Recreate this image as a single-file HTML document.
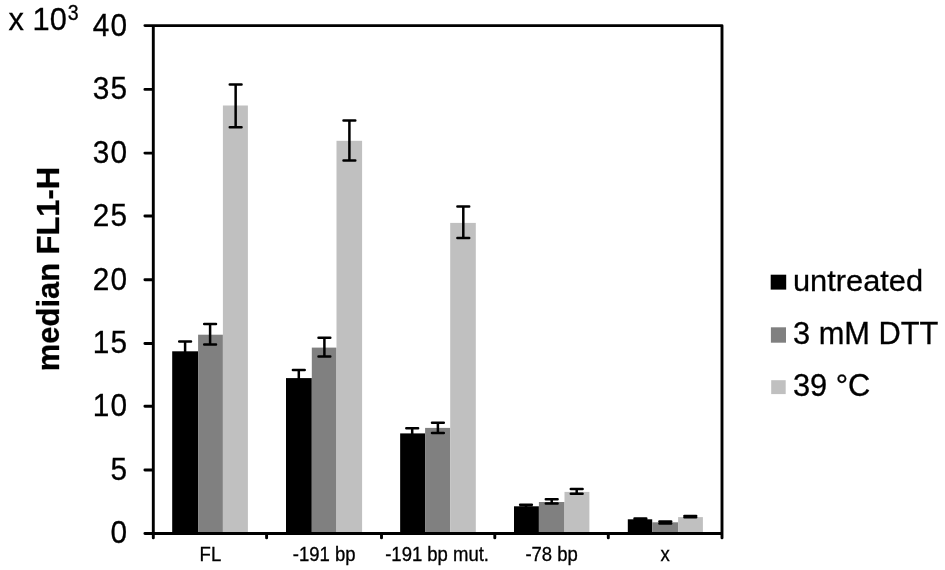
<!DOCTYPE html>
<html><head><meta charset="utf-8"><style>
html,body{margin:0;padding:0;background:#fff;width:945px;height:570px;overflow:hidden}
svg{display:block}
text{font-family:"Liberation Sans",Arial,sans-serif;fill:#000;stroke:#000;stroke-width:0.3px}
</style></head><body>
<svg width="945" height="570" viewBox="0 0 945 570">
<rect x="172.20" y="351.30" width="25.90" height="182.20" fill="#000000"/>
<rect x="198.10" y="334.70" width="24.80" height="198.80" fill="#808080"/>
<rect x="222.90" y="105.50" width="25.00" height="428.00" fill="#c0c0c0"/>
<rect x="286.00" y="378.10" width="25.80" height="155.40" fill="#000000"/>
<rect x="311.80" y="347.60" width="24.70" height="185.90" fill="#808080"/>
<rect x="336.50" y="140.80" width="25.60" height="392.70" fill="#c0c0c0"/>
<rect x="400.15" y="433.40" width="24.95" height="100.10" fill="#000000"/>
<rect x="425.10" y="427.90" width="25.10" height="105.60" fill="#808080"/>
<rect x="450.20" y="222.90" width="25.60" height="310.60" fill="#c0c0c0"/>
<rect x="514.00" y="506.30" width="24.90" height="27.20" fill="#000000"/>
<rect x="538.90" y="502.00" width="25.60" height="31.50" fill="#808080"/>
<rect x="564.50" y="491.90" width="24.90" height="41.60" fill="#c0c0c0"/>
<rect x="627.80" y="519.30" width="24.40" height="14.20" fill="#000000"/>
<rect x="652.20" y="522.30" width="25.90" height="11.20" fill="#808080"/>
<rect x="678.10" y="517.10" width="24.80" height="16.40" fill="#c0c0c0"/>
<path d="M185.10 341.40V361.20M179.20 341.40H191.00M179.20 361.20H191.00" stroke="#000" stroke-width="2.5" stroke-linecap="round" fill="none"/>
<path d="M210.10 323.90V344.40M204.20 323.90H216.00M204.20 344.40H216.00" stroke="#000" stroke-width="2.5" stroke-linecap="round" fill="none"/>
<path d="M235.65 84.60V127.20M229.75 84.60H241.55M229.75 127.20H241.55" stroke="#000" stroke-width="2.5" stroke-linecap="round" fill="none"/>
<path d="M298.80 370.10V386.10M292.90 370.10H304.70M292.90 386.10H304.70" stroke="#000" stroke-width="2.5" stroke-linecap="round" fill="none"/>
<path d="M324.40 337.80V356.60M318.50 337.80H330.30M318.50 356.60H330.30" stroke="#000" stroke-width="2.5" stroke-linecap="round" fill="none"/>
<path d="M349.40 120.60V160.60M343.50 120.60H355.30M343.50 160.60H355.30" stroke="#000" stroke-width="2.5" stroke-linecap="round" fill="none"/>
<path d="M412.20 428.30V438.50M406.30 428.30H418.10M406.30 438.50H418.10" stroke="#000" stroke-width="2.5" stroke-linecap="round" fill="none"/>
<path d="M437.90 422.80V433.00M432.00 422.80H443.80M432.00 433.00H443.80" stroke="#000" stroke-width="2.5" stroke-linecap="round" fill="none"/>
<path d="M463.30 206.40V238.05M457.40 206.40H469.20M457.40 238.05H469.20" stroke="#000" stroke-width="2.5" stroke-linecap="round" fill="none"/>
<path d="M526.00 504.80V507.80M520.10 504.80H531.90M520.10 507.80H531.90" stroke="#000" stroke-width="2.5" stroke-linecap="round" fill="none"/>
<path d="M551.70 499.30V503.40M545.80 499.30H557.60M545.80 503.40H557.60" stroke="#000" stroke-width="2.5" stroke-linecap="round" fill="none"/>
<path d="M576.70 489.10V493.75M570.80 489.10H582.60M570.80 493.75H582.60" stroke="#000" stroke-width="2.5" stroke-linecap="round" fill="none"/>
<path d="M640.40 518.50V520.30M634.50 518.50H646.30M634.50 520.30H646.30" stroke="#000" stroke-width="2.5" stroke-linecap="round" fill="none"/>
<path d="M665.30 521.40V523.40M659.40 521.40H671.20M659.40 523.40H671.20" stroke="#000" stroke-width="2.5" stroke-linecap="round" fill="none"/>
<path d="M690.30 515.95V517.15M684.40 515.95H696.20M684.40 517.15H696.20" stroke="#000" stroke-width="2.5" stroke-linecap="round" fill="none"/>
<path d="M153.30 25.60H722.00V533.50H153.30Z M144.90 533.50H153.30 M144.90 470.00H153.30 M144.90 406.30H153.30 M144.90 343.50H153.30 M144.90 279.75H153.30 M144.90 216.00H153.30 M144.90 153.10H153.30 M144.90 89.40H153.30 M144.90 25.60H153.30 M153.30 533.50V537.90 M266.60 533.50V537.90 M381.50 533.50V537.90 M494.80 533.50V537.90 M608.30 533.50V537.90 M722.00 533.50V537.90" stroke="#000" stroke-width="2.9" stroke-linecap="round" stroke-linejoin="round" fill="none"/>
<text transform="translate(128.4 543.40) scale(1 1.07)" text-anchor="end" letter-spacing="1.3" font-size="29.8">0</text>
<text transform="translate(128.4 479.90) scale(1 1.07)" text-anchor="end" letter-spacing="1.3" font-size="29.8">5</text>
<text transform="translate(128.4 416.20) scale(1 1.07)" text-anchor="end" letter-spacing="1.3" font-size="29.8">10</text>
<text transform="translate(128.4 353.40) scale(1 1.07)" text-anchor="end" letter-spacing="1.3" font-size="29.8">15</text>
<text transform="translate(128.4 289.65) scale(1 1.07)" text-anchor="end" letter-spacing="1.3" font-size="29.8">20</text>
<text transform="translate(128.4 225.90) scale(1 1.07)" text-anchor="end" letter-spacing="1.3" font-size="29.8">25</text>
<text transform="translate(128.4 163.00) scale(1 1.07)" text-anchor="end" letter-spacing="1.3" font-size="29.8">30</text>
<text transform="translate(128.4 99.30) scale(1 1.07)" text-anchor="end" letter-spacing="1.3" font-size="29.8">35</text>
<text transform="translate(128.4 35.50) scale(1 1.07)" text-anchor="end" letter-spacing="1.3" font-size="29.8">40</text>
<text transform="translate(210.40 560.5) scale(1 1.05)" text-anchor="middle" font-size="18.5">FL</text>
<text transform="translate(324.20 560.5) scale(1 1.05)" text-anchor="middle" font-size="18.5">-191 bp</text>
<text transform="translate(437.10 560.5) scale(1 1.05)" text-anchor="middle" font-size="18.5">-191 bp mut.</text>
<text transform="translate(551.60 560.5) scale(1 1.05)" text-anchor="middle" font-size="18.5">-78 bp</text>
<text transform="translate(665.20 560.5) scale(1 1.05)" text-anchor="middle" font-size="18.5">x</text>
<text transform="translate(8.6 29.6) scale(1 1.035)" font-size="30.8">x 10</text>
<text transform="translate(67.8 20.3) scale(1 1.12)" font-size="19.5">3</text>
<text transform="translate(58.95 269) rotate(-90)" text-anchor="middle" font-size="30.9" font-weight="bold">median FL1-H</text>
<rect x="770.7" y="274.7" width="15.5" height="14.9" fill="#000000"/>
<text transform="translate(793 291.3) scale(1 0.975)" font-size="30.8">untreated</text>
<rect x="770.9" y="327.3" width="15.1" height="15.4" fill="#808080"/>
<text transform="translate(793 344.4) scale(1 1.04)" font-size="30.8">3 mM DTT</text>
<rect x="771.2" y="380.2" width="14.5" height="13.9" fill="#c0c0c0"/>
<text transform="translate(793 395.6) scale(1 1.04)" font-size="30.8">39 °C</text>
</svg>
</body></html>
